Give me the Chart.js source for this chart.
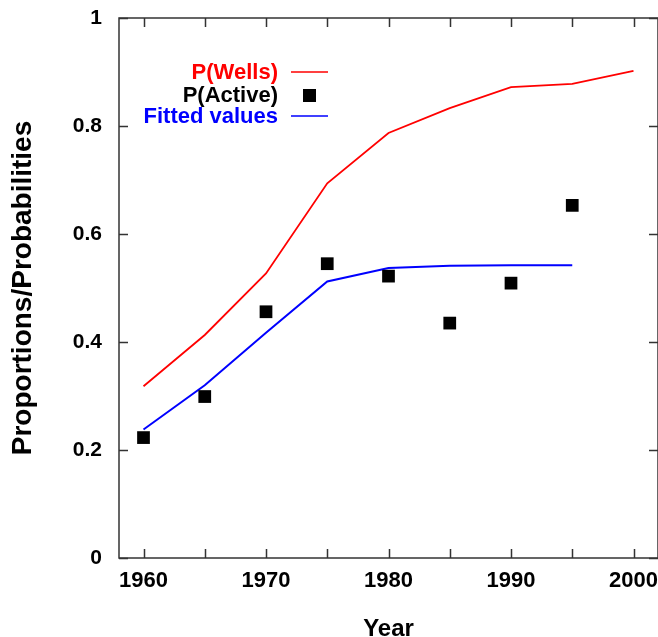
<!DOCTYPE html>
<html>
<head>
<meta charset="utf-8">
<script src="https://cdn.jsdelivr.net/npm/chart.js@4.4.1/dist/chart.umd.min.js"></script>
<style>
  html, body { margin: 0; padding: 0; background: #fff; }
  #wrap { position: relative; width: 658px; height: 637px; }
</style>
</head>
<body>
<div id="wrap"><canvas id="myChart"></canvas></div>
<script>
const years = [1960, 1965, 1970, 1975, 1980, 1985, 1990, 1995, 2000];
const pWells = [0.318, 0.413, 0.527, 0.694, 0.787, 0.833, 0.872, 0.878, 0.902];
const pActive = [0.223, 0.299, 0.456, 0.545, 0.522, 0.435, 0.509, 0.653];
const fitted = [0.238, 0.320, 0.417, 0.512, 0.537, 0.541, 0.542, 0.542];

const xTicks = [1960, 1965, 1970, 1975, 1980, 1985, 1990, 1995, 2000];
const yTicks = [0, 0.2, 0.4, 0.6, 0.8, 1];

const FONT = "'Liberation Sans', Arial, Helvetica, sans-serif";

const toPoints = (vals) => vals.map((v, i) => ({x: years[i], y: v}));

// box round the plot with short inward ticks on every side
const framePlugin = {
  id: 'frame',
  beforeDatasetsDraw(chart) {
    const {ctx, chartArea: a, scales: {x, y}} = chart;
    ctx.save();
    ctx.strokeStyle = '#333';
    ctx.lineWidth = 1.5;
    ctx.strokeRect(a.left, a.top, a.right - a.left, a.bottom - a.top);
    ctx.beginPath();
    xTicks.forEach(v => {
      const px = Math.round(x.getPixelForValue(v)) + 0.5;
      ctx.moveTo(px, a.bottom); ctx.lineTo(px, a.bottom - 9);
      ctx.moveTo(px, a.top); ctx.lineTo(px, a.top + 9);
    });
    yTicks.forEach(v => {
      const py = Math.round(y.getPixelForValue(v)) + 0.5;
      ctx.moveTo(a.left, py); ctx.lineTo(a.left + 9, py);
      ctx.moveTo(a.right, py); ctx.lineTo(a.right - 9, py);
    });
    ctx.stroke();
    ctx.restore();
  }
};

// key in the upper left: label right-aligned, sample to its right
const keyPlugin = {
  id: 'key',
  afterDraw(chart) {
    const {ctx} = chart;
    const rows = [73, 95.5, 117];
    const textRight = 278, sampleL = 291, sampleR = 328;
    ctx.save();
    ctx.font = 'bold 22px ' + FONT;
    ctx.textAlign = 'right';
    ctx.textBaseline = 'middle';
    chart.data.datasets.forEach((ds, i) => {
      const yy = rows[i];
      ctx.fillStyle = ds.keyColor;
      ctx.fillText(ds.label, textRight, yy);
      if (ds.showLine === false) {
        ctx.fillStyle = ds.backgroundColor;
        ctx.fillRect((sampleL + sampleR) / 2 - 6.5, yy - 6.5, 13, 13);
      } else {
        ctx.strokeStyle = ds.borderColor;
        ctx.lineWidth = 1.6;
        ctx.beginPath();
        ctx.moveTo(sampleL, yy - 1);
        ctx.lineTo(sampleR, yy - 1);
        ctx.stroke();
      }
    });
    ctx.restore();
  }
};

const data = {
  datasets: [{
    label: 'P(Wells)',
    keyColor: '#ff0000',
    data: toPoints(pWells),
    borderColor: '#ff0000',
    borderWidth: 1.8,
    pointRadius: 0,
    tension: 0,
    showLine: true
  }, {
    label: 'P(Active)',
    keyColor: '#000000',
    data: toPoints(pActive),
    backgroundColor: '#000000',
    borderWidth: 0,
    pointStyle: 'rect',
    pointRadius: 9,
    showLine: false
  }, {
    label: 'Fitted values',
    keyColor: '#0000ff',
    data: toPoints(fitted),
    borderColor: '#0000ff',
    borderWidth: 2,
    pointRadius: 0,
    tension: 0,
    showLine: true
  }]
};

const noPad = (scale) => {
  scale.paddingLeft = 0; scale.paddingRight = 0;
  scale.paddingTop = 0; scale.paddingBottom = 0;
};

const config = {
  type: 'scatter',
  data,
  options: {
    responsive: true,
    maintainAspectRatio: false,
    animation: false,
    layout: { autoPadding: false, padding: { top: 18, right: -1.5, bottom: 0, left: 0 } },
    plugins: { legend: { display: false }, tooltip: { enabled: false } },
    scales: {
      x: {
        type: 'linear',
        min: 1958,
        max: 2002,
        grid: { display: false, drawTicks: false },
        border: { display: false },
        afterBuildTicks: (scale) => { scale.ticks = xTicks.map(v => ({value: v})); },
        afterFit: (scale) => { scale.height = 79; noPad(scale); },
        ticks: {
          padding: 10,
          color: '#000',
          maxRotation: 0,
          autoSkip: false,
          font: { family: FONT, size: 22, weight: 'bold' },
          callback: (v) => (v % 10 === 0 ? String(v) : '')
        },
        title: {
          display: true,
          text: 'Year',
          color: '#000',
          padding: 0,
          font: { family: FONT, size: 24, weight: 'bold', lineHeight: 0.6 }
        }
      },
      y: {
        min: 0,
        max: 1,
        grid: { display: false, drawTicks: false },
        border: { display: false },
        afterBuildTicks: (scale) => { scale.ticks = yTicks.map(v => ({value: v})); },
        afterFit: (scale) => { scale.width = 119; noPad(scale); },
        ticks: {
          padding: 17,
          color: '#000',
          font: { family: FONT, size: 21, weight: 'bold' },
          callback: (v) => String(Math.round(v * 10) / 10)
        },
        title: {
          display: true,
          text: 'Proportions/Probabilities',
          color: '#000',
          padding: { top: 6, bottom: 0 },
          font: { family: FONT, size: 28, weight: 'bold' }
        }
      }
    }
  },
  plugins: [framePlugin, keyPlugin]
};

const myChart = new Chart(document.getElementById('myChart'), config);
</script>
</body>
</html>
